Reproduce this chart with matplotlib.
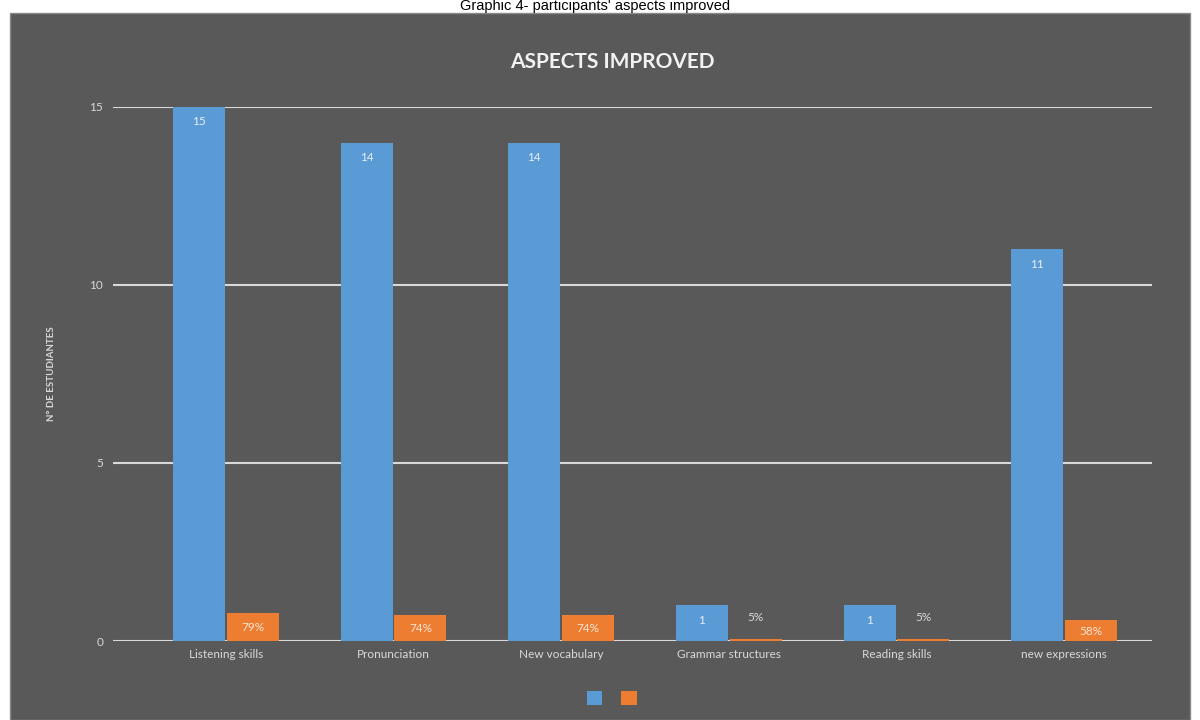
import matplotlib.pyplot as plt
from matplotlib.patches import Rectangle, Patch
import numpy as np

categories = ["Listening skills", "Pronunciation", "New vocabulary",
              "Grammar structures", "Reading skills", "new expressions"]
students = [15, 14, 14, 1, 1, 11]
percent = [0.79, 0.74, 0.74, 0.05, 0.05, 0.58]
percent_labels = ["79%", "74%", "74%", "5%", "5%", "58%"]

blue = "#5B9BD5"
orange = "#ED7D31"
panel = "#595959"
light = "#D9D9D9"

plt.rcParams['font.family'] = ['Lato', 'DejaVu Sans']

fig = plt.figure(figsize=(12, 7.2), dpi=100)
fig.patch.set_facecolor("white")

# dark chart panel, behind the axes
fig.patches.append(Rectangle((10 / 1200, 0), 1180 / 1200, 707 / 720,
                             transform=fig.transFigure, facecolor=panel,
                             edgecolor="#8a8a8a", linewidth=1, zorder=-5))

# caption above the panel
fig.text(0.496, 1 - 10 / 720, "Graphic 4- participants' aspects improved",
         ha="center", va="baseline", fontsize=10.5, color="black",
         family="Liberation Sans")

ax = fig.add_axes([113 / 1200, 79 / 720, 1039 / 1200, 534 / 720])
ax.set_facecolor("none")
ax.set_zorder(2)

x = np.arange(len(categories))
w = 0.31
b1 = ax.bar(x - 0.16, students, w, color=blue, zorder=3)
b2 = ax.bar(x + 0.16, percent, w, color=orange, zorder=3)

for rect, v in zip(b1, students):
    ax.text(rect.get_x() + rect.get_width() / 2, v - 0.42, str(v),
            ha="center", va="center", fontsize=8.5, color="#e8eef7", zorder=4)
for rect, v, lab in zip(b2, percent, percent_labels):
    if v > 0.3:
        ax.text(rect.get_x() + rect.get_width() / 2, v / 2 - 0.02, lab,
                ha="center", va="center", fontsize=8.5, color="#fde6d6", zorder=4)
    else:
        ax.text(rect.get_x() + rect.get_width() / 2, v + 0.6, lab,
                ha="center", va="center", fontsize=8.5, color=light, zorder=4)

ax.set_xlim(-0.674, 5.525)
ax.set_ylim(0, 15)
ax.set_yticks([0, 5, 10, 15])
ax.set_xticks(x)
ax.set_xticklabels(categories)
ax.tick_params(axis="both", length=0, colors=light, labelsize=8.5)
ax.tick_params(axis="y", pad=7)
ax.tick_params(axis="x", pad=6)
ax.grid(axis="y", color=light, linewidth=1.5, zorder=1)
for s in ax.spines.values():
    s.set_visible(False)

ax.set_ylabel("N° DE ESTUDIANTES", color=light, fontsize=7, fontweight="bold",
              labelpad=24)

fig.text(612 / 1200, 1 - 62 / 720, "ASPECTS IMPROVED", ha="center", va="center",
         fontsize=15, fontweight="bold", color="#f2f2f2")

handles = [Patch(facecolor=blue), Patch(facecolor=orange)]
fig.legend(handles, ["", ""], ncol=2, loc="center",
           bbox_to_anchor=(613 / 1200, 1 - 698 / 720), frameon=False,
           handlelength=1.1, handleheight=1.1, columnspacing=1.2,
           handletextpad=0.2)

fig.savefig("out.png", dpi=100, facecolor=fig.get_facecolor())
